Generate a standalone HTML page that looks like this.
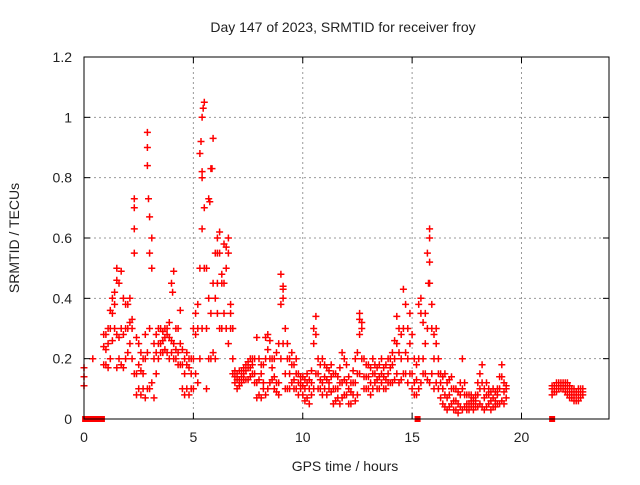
<!DOCTYPE html>
<html><head><meta charset="utf-8"><style>
body{margin:0;background:#fff}
svg text{font-family:"Liberation Sans",sans-serif;font-size:14px;fill:#222}
</style></head><body>
<svg id="c" width="640" height="480" xmlns="http://www.w3.org/2000/svg">
<text x="343" y="32" text-anchor="middle">Day 147 of 2023, SRMTID for receiver froy</text>
<text x="345" y="471" text-anchor="middle">GPS time / hours</text>
<text transform="translate(19,238) rotate(-90)" text-anchor="middle">SRMTID / TECUs</text>
<g id="grid"></g><g id="marks"></g><g id="axes"></g>
</svg>
<script>
const xTicks=[0,5,10,15,20];
const yTicks=[0,0.2,0.4,0.6,0.8,1.0,1.2];
const yTickLabels=["0","0.2","0.4","0.6","0.8","1","1.2"];
const n=null;
const lowVals=[0.11,n,n,n,0.2,n,n,n,n,0.18,
0.18,0.17,0.2,0.26,0.3,0.17,0.2,0.18,0.17,0.2,
0.22,0.25,0.2,0.15,0.08,0.1,0.08,0.1,0.07,0.1,
0.1,0.12,0.07,0.15,0.2,0.22,0.22,0.23,0.22,0.2,
0.22,0.2,0.2,0.18,0.18,0.1,0.08,0.1,0.08,0.1,
0.1,0.15,0.12,0.2,0.3,0.5,0.1,0.2,0.2,0.22,
0.2,0.35,0.3,0.3,0.35,0.3,0.25,0.3,0.15,0.12,
0.1,0.11,0.12,0.13,0.13,0.13,0.14,0.15,0.12,0.07,
0.08,0.07,0.1,0.08,0.1,0.12,0.13,0.1,0.09,0.08,
0.2,0.25,0.1,0.1,0.1,0.12,0.1,0.1,0.08,0.1,
0.08,0.06,0.07,0.05,0.08,0.1,0.15,0.1,0.1,0.08,
0.1,0.08,0.1,0.09,0.05,0.06,0.07,0.05,0.07,0.08,
0.08,0.05,0.05,0.08,0.06,0.08,0.15,0.2,0.1,0.1,
0.1,0.08,0.1,0.12,0.1,0.1,0.12,0.1,0.1,0.12,
0.12,0.12,0.13,0.15,0.12,0.13,0.15,0.15,0.12,0.15,
0.1,0.08,0.08,0.1,0.12,0.15,0.15,0.13,0.12,0.15,
0.1,0.12,0.1,0.07,0.05,0.04,0.03,0.04,0.05,0.03,
0.03,0.02,0.04,0.03,0.04,0.03,0.03,0.04,0.03,0.04,
0.04,0.05,0.04,0.03,0.04,0.05,0.03,0.04,0.04,0.05,
0.05,0.06,0.05,0.07,n,n,n,n,n,n,
n,n,n,n,n,n,n,n,n,n,
n,n,n,n,0.08,0.09,0.09,0.1,0.1,0.1,
0.09,0.08,0.07,0.07,0.06,0.06,0.06,0.07,0.08];
const midVals=[0.14,n,n,n,n,n,n,n,n,0.24,
0.23,0.25,0.3,0.35,0.38,0.28,0.27,0.3,0.28,0.3,
0.3,0.32,0.3,0.55,0.15,0.18,0.16,0.15,0.2,0.22,
0.3,0.5,0.2,0.22,0.25,0.25,0.26,0.27,0.28,0.27,
0.26,0.25,0.23,0.22,0.25,0.18,0.15,0.18,0.17,0.15,
0.2,0.28,0.3,0.5,0.8,0.7,0.3,0.4,0.35,0.45,
0.4,0.45,0.55,0.45,0.45,0.5,0.55,0.35,0.2,0.14,
0.13,0.13,0.14,0.15,0.16,0.17,0.17,0.18,0.15,0.12,
0.13,0.15,0.12,0.2,0.23,0.2,0.17,0.14,0.12,0.12,
0.38,0.4,0.15,0.2,0.15,0.18,0.13,0.15,0.12,0.12,
0.11,0.1,0.12,0.1,0.12,0.25,0.28,0.15,0.13,0.12,
0.14,0.13,0.12,0.14,0.1,0.1,0.1,0.12,0.12,0.13,
0.12,0.1,0.09,0.12,0.12,0.15,0.28,0.3,0.14,0.14,
0.14,0.12,0.15,0.15,0.13,0.14,0.15,0.14,0.13,0.15,
0.17,0.18,0.2,0.25,0.22,0.2,0.3,0.22,0.2,0.25,
0.15,0.12,0.13,0.2,0.35,0.2,0.25,0.3,0.45,0.3,
0.2,0.25,0.15,0.12,0.1,0.08,0.07,0.08,0.1,0.06,
0.06,0.05,0.08,0.1,0.08,0.05,0.05,0.06,0.05,0.06,
0.08,0.1,0.12,0.07,0.08,0.08,0.06,0.07,0.06,0.08,
0.1,0.14,0.09,0.1,n,n,n,n,n,n,
n,n,n,n,n,n,n,n,n,n,
n,n,n,n,0.1,0.1,0.11,0.11,0.11,0.11,
0.1,0.1,0.09,0.08,0.08,0.08,0.08,0.09,0.09];
const highVals=[0.17,n,n,n,n,n,n,n,n,0.28,
0.28,0.3,0.36,0.4,0.42,0.5,0.45,0.49,0.4,0.38,
0.38,0.4,0.33,0.7,0.27,0.25,0.22,0.2,0.28,0.95,
0.55,0.6,0.25,0.28,0.3,0.3,0.29,0.3,0.3,0.32,
0.45,0.49,0.3,0.3,0.36,0.23,0.2,0.22,0.2,0.2,
0.3,0.35,0.38,0.88,1.0,1.05,0.5,0.73,0.83,0.93,
0.55,0.6,0.62,0.48,0.58,0.57,0.6,0.38,0.3,0.16,
0.15,0.16,0.16,0.17,0.18,0.19,0.2,0.2,0.2,0.27,
0.2,0.18,0.18,0.27,0.28,0.26,0.2,0.2,0.22,0.25,
0.48,0.44,0.3,0.25,0.2,0.22,0.18,0.2,0.15,0.14,
0.14,0.13,0.15,0.13,0.16,0.3,0.34,0.2,0.18,0.2,
0.18,0.17,0.16,0.18,0.15,0.15,0.14,0.17,0.22,0.2,
0.18,0.14,0.12,0.16,0.2,0.22,0.35,0.32,0.2,0.18,
0.18,0.17,0.2,0.18,0.17,0.18,0.2,0.17,0.18,0.2,
0.2,0.22,0.26,0.34,0.3,0.28,0.43,0.38,0.3,0.35,
0.28,0.2,0.18,0.38,0.4,0.32,0.35,0.55,0.63,0.38,
0.28,0.3,0.2,0.15,0.14,0.15,0.12,0.13,0.14,0.1,
0.1,0.09,0.12,0.2,0.12,0.08,0.08,0.08,0.07,0.08,
0.12,0.15,0.18,0.1,0.12,0.1,0.09,0.1,0.09,0.1,
0.14,0.18,0.12,0.11,n,n,n,n,n,n,
n,n,n,n,n,n,n,n,n,n,
n,n,n,n,0.11,0.11,0.12,0.12,0.12,0.12,
0.12,0.12,0.11,0.1,0.1,0.09,0.1,0.1,0.1];
const spikeTimes=[2.3,2.3,2.9,2.9,2.95,3.0,5.35,5.4,5.45,5.4,5.5,5.85,5.75,6.1,6.3,15.8,15.8,15.75,9.1,12.6,4.05,1.5];
const spikeVals=[0.73,0.63,0.9,0.84,0.73,0.67,0.92,0.82,1.03,0.63,0.7,0.83,0.72,0.55,0.45,0.6,0.52,0.45,0.43,0.33,0.42,0.46];
const zeroTimes=[0.05,0.15,0.25,0.35,0.45,0.55,0.65,0.75,0.82,15.25,21.4];
const X0=84,X1=609,Y0=419,Y1=57;
const xs=t=>X0+t*(X1-X0)/24, ys=v=>Y0-v*(Y0-Y1)/1.2;
const NS="http://www.w3.org/2000/svg";
function mk(tag,a,p){const e=document.createElementNS(NS,tag);for(const k in a)e.setAttribute(k,a[k]);p.appendChild(e);return e;}
const grid=document.getElementById('grid'),marks=document.getElementById('marks'),axes=document.getElementById('axes');
xTicks.forEach(t=>{
 if(t>0){const g=mk('line',{x1:xs(t),x2:xs(t),y1:Y1,y2:Y0,stroke:'#999','stroke-dasharray':'2,3'},grid);
 
 }
 mk('line',{x1:xs(t),x2:xs(t),y1:Y0,y2:Y0-6,stroke:'#000'},axes);
 mk('line',{x1:xs(t),x2:xs(t),y1:Y1,y2:Y1+6,stroke:'#000'},axes);
 const l=mk('text',{x:xs(t),y:Y0+23,'text-anchor':'middle'},axes);l.textContent=t;
 
 
});
yTicks.forEach((v,i)=>{
 if(v>0&&v<1.2){const g=mk('line',{x1:X0,x2:X1,y1:ys(v),y2:ys(v),stroke:'#999','stroke-dasharray':'2,3'},grid);
 
 }
 mk('line',{x1:X0,x2:X0+6,y1:ys(v),y2:ys(v),stroke:'#000'},axes);
 mk('line',{x1:X1,x2:X1-6,y1:ys(v),y2:ys(v),stroke:'#000'},axes);
 const l=mk('text',{x:X0-12,y:ys(v)+5,'text-anchor':'end'},axes);l.textContent=yTickLabels[i];
 
 
});
const fr=mk('rect',{x:X0,y:Y1,width:X1-X0,height:Y0-Y1,fill:'none',stroke:'#000'},axes);


let d='';
function plus(t,v){const x=xs(t),y=ys(v);d+=`M${(x-3.5).toFixed(1)} ${y.toFixed(1)}h7M${x.toFixed(1)} ${(y-3.5).toFixed(1)}v7`;}
[lowVals,midVals,highVals].forEach(arr=>arr.forEach((v,i)=>{if(v!==null)plus(i*0.1,v);}));
spikeTimes.forEach((t,i)=>plus(t,spikeVals[i]));
const p=mk('path',{d:d,stroke:'#f00','stroke-width':1.5,fill:'none'},marks);


zeroTimes.forEach(t=>{const r=mk('rect',{x:xs(t)-3,y:ys(0)-3,width:6,height:6,fill:'#f00'},marks);
 
 });
</script>
</body></html>
